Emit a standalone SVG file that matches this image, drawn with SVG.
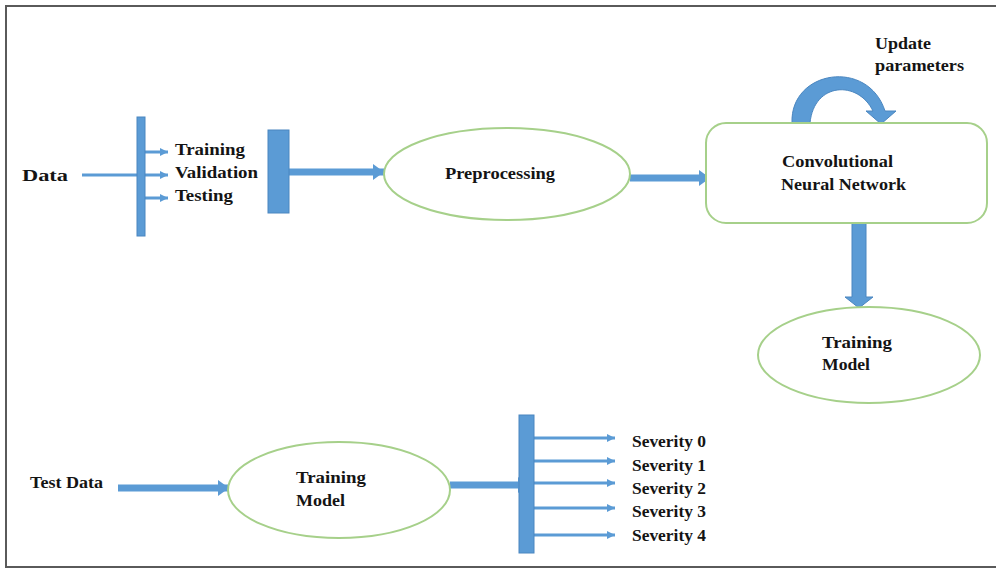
<svg xmlns="http://www.w3.org/2000/svg" width="996" height="570" viewBox="0 0 996 570">
  <defs>
    <style>
      .lbl { font-family: "Liberation Serif", "Times New Roman", serif; font-weight: bold; font-size: 17px; fill: #141414; }
      .node { fill: #ffffff; stroke: #a6d08a; stroke-width: 2; }
      .bar { fill: #5b9bd5; stroke: #4a86c0; stroke-width: 1; }
      .thin { stroke: #5b9bd5; stroke-width: 3; fill: none; }
      .thick { stroke: #5b9bd5; stroke-width: 7; fill: none; }
      .thin-a { stroke: #5b9bd5; stroke-width: 3; fill: none; marker-end: url(#headSmall); }
      .thick-a { stroke: #5b9bd5; stroke-width: 7; fill: none; marker-end: url(#headBig); }
    </style>
    <marker id="headSmall" markerUnits="userSpaceOnUse" markerWidth="10" markerHeight="10" refX="8" refY="5" orient="auto">
      <path d="M0,1 L8,5 L0,9 Z" fill="#5b9bd5"/>
    </marker>
    <marker id="headBig" markerUnits="userSpaceOnUse" markerWidth="12" markerHeight="18" refX="11" refY="9" orient="auto">
      <path d="M0,1 L11,9 L0,17 Z" fill="#5b9bd5"/>
    </marker>
  </defs>

  <!-- outer frame -->
  <rect x="6" y="6" width="1000" height="561" fill="#ffffff" stroke="#5a5a5a" stroke-width="2"/>

  <!-- connectors -->
  <g id="connectors">
    <line class="thin" x1="82" y1="175" x2="140" y2="175"/>
    <line class="thin-a" x1="145" y1="152" x2="168" y2="152"/>
    <line class="thin-a" x1="145" y1="175" x2="168" y2="175"/>
    <line class="thin-a" x1="145" y1="198" x2="168" y2="198"/>
    <line class="thick-a" x1="289" y1="172" x2="384" y2="172"/>
    <line class="thick-a" x1="630" y1="178" x2="710" y2="178"/>
    <!-- feedback loop over the CNN -->
    <path d="M792,123 C790,70 868,58 885,111 L896,111 L881,124 L866,111 L873,111 C858,80 814,82 810,123 Z" fill="#5b9bd5" stroke="#4a86c0" stroke-width="1"/>
    <!-- CNN down to training model -->
    <path d="M852,223 L866,223 L866,297 L873,297 L859,308 L845,297 L852,297 Z" fill="#5b9bd5" stroke="#4a86c0" stroke-width="1"/>
    <line class="thick-a" x1="118" y1="488" x2="229" y2="488"/>
    <line class="thick-a" x1="450" y1="485" x2="529" y2="485"/>
    <line class="thin-a" x1="534" y1="438" x2="615" y2="438"/>
    <line class="thin-a" x1="534" y1="461" x2="615" y2="461"/>
    <line class="thin-a" x1="534" y1="483" x2="615" y2="483"/>
    <line class="thin-a" x1="534" y1="508" x2="615" y2="508"/>
    <line class="thin-a" x1="534" y1="535" x2="615" y2="535"/>
  </g>

  <g id="data">
    <text class="lbl" x="22" y="181" font-size="21" textLength="46" lengthAdjust="spacingAndGlyphs">Data</text>
  </g>

  <g id="split-bar">
    <rect class="bar" x="137" y="117" width="8" height="119"/>
  </g>

  <g id="split-labels">
    <text class="lbl" x="175" y="155" textLength="70" lengthAdjust="spacingAndGlyphs">Training</text>
    <text class="lbl" x="175" y="178" textLength="83" lengthAdjust="spacingAndGlyphs">Validation</text>
    <text class="lbl" x="175" y="201" textLength="58" lengthAdjust="spacingAndGlyphs">Testing</text>
  </g>

  <g id="merge-bar">
    <rect class="bar" x="268" y="130" width="21" height="83"/>
  </g>

  <g id="preprocessing">
    <ellipse class="node" cx="507" cy="174" rx="123" ry="46"/>
    <text class="lbl" x="445" y="179" textLength="110" lengthAdjust="spacingAndGlyphs">Preprocessing</text>
  </g>

  <g id="cnn">
    <rect class="node" x="706" y="123" width="281" height="100" rx="20" ry="20"/>
    <text class="lbl" x="782" y="167" textLength="111" lengthAdjust="spacingAndGlyphs">Convolutional</text>
    <text class="lbl" x="781" y="190" textLength="125" lengthAdjust="spacingAndGlyphs">Neural Network</text>
  </g>

  <g id="update-label">
    <text class="lbl" x="875" y="49" textLength="56" lengthAdjust="spacingAndGlyphs">Update</text>
    <text class="lbl" x="875" y="71" textLength="89" lengthAdjust="spacingAndGlyphs">parameters</text>
  </g>

  <g id="training-model">
    <ellipse class="node" cx="869" cy="355" rx="111" ry="48"/>
    <text class="lbl" x="822" y="348" textLength="70" lengthAdjust="spacingAndGlyphs">Training</text>
    <text class="lbl" x="822" y="370" textLength="48" lengthAdjust="spacingAndGlyphs">Model</text>
  </g>

  <g id="test-data">
    <text class="lbl" x="30" y="488" textLength="73" lengthAdjust="spacingAndGlyphs">Test Data</text>
  </g>

  <g id="trained-model">
    <ellipse class="node" cx="339" cy="490" rx="111" ry="48"/>
    <text class="lbl" x="296" y="483" textLength="70" lengthAdjust="spacingAndGlyphs">Training</text>
    <text class="lbl" x="296" y="506" textLength="49" lengthAdjust="spacingAndGlyphs">Model</text>
  </g>

  <g id="output-bar">
    <rect class="bar" x="519" y="415" width="15" height="138"/>
  </g>

  <g id="severity-labels">
    <text class="lbl" x="632" y="447" textLength="74" lengthAdjust="spacingAndGlyphs">Severity 0</text>
    <text class="lbl" x="632" y="471" textLength="74" lengthAdjust="spacingAndGlyphs">Severity 1</text>
    <text class="lbl" x="632" y="494" textLength="74" lengthAdjust="spacingAndGlyphs">Severity 2</text>
    <text class="lbl" x="632" y="517" textLength="74" lengthAdjust="spacingAndGlyphs">Severity 3</text>
    <text class="lbl" x="632" y="541" textLength="74" lengthAdjust="spacingAndGlyphs">Severity 4</text>
  </g>
</svg>
